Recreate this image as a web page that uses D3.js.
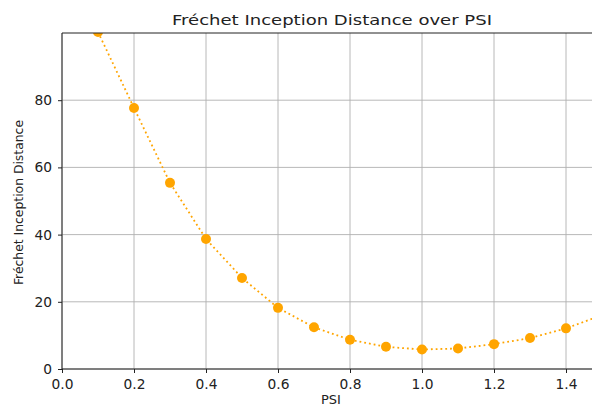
<!DOCTYPE html>
<html>
<head>
<meta charset="utf-8">
<script src="https://cdn.jsdelivr.net/npm/d3@7"></script>
<style>
  body { margin: 0; background: #fff; }
  svg { font-family: "DejaVu Sans", sans-serif; }
</style>
</head>
<body>
<svg id="chart" width="592" height="406"></svg>
<script>
// values
var psi = [0.1, 0.2, 0.3, 0.4, 0.5, 0.6, 0.7, 0.8, 0.9, 1.0, 1.1, 1.2, 1.3, 1.4, 1.5];
var fid = [100.3, 77.7, 55.4, 38.7, 27.1, 18.2, 12.4, 8.7, 6.6, 5.8, 6.1, 7.4, 9.2, 12.1, 16.0];
var xTicks = [0.0, 0.2, 0.4, 0.6, 0.8, 1.0, 1.2, 1.4];
var yTicks = [0, 20, 40, 60, 80];

var svg = d3.select("#chart");
var plotL = 62, plotT = 33, plotR = 602, plotB = 369;

var x = d3.scaleLinear().domain([0, 1.5]).range([plotL, plotR]);
var y = d3.scaleLinear().domain([0, 100]).range([plotB, plotT]);

svg.append("defs").append("clipPath").attr("id", "plotclip")
	.append("rect")
	.attr("x", plotL).attr("y", plotT)
	.attr("width", plotR - plotL).attr("height", plotB - plotT);

// grid
var grid = svg.append("g").attr("stroke", "#b0b0b0").attr("stroke-width", 0.9);
grid.selectAll(".gx").data(xTicks).enter().append("line")
	.attr("x1", function(d) { return x(d); }).attr("x2", function(d) { return x(d); })
	.attr("y1", plotT).attr("y2", plotB);
grid.selectAll(".gy").data(yTicks).enter().append("line")
	.attr("x1", plotL).attr("x2", plotR)
	.attr("y1", function(d) { return y(d); }).attr("y2", function(d) { return y(d); });

// data
var plot = svg.append("g").attr("clip-path", "url(#plotclip)");
var line = d3.line()
	.x(function(d, i) { return x(psi[i]); })
	.y(function(d) { return y(d); });

plot.append("path")
	.datum(fid)
	.attr("d", line)
	.attr("fill", "none")
	.attr("stroke", "orange")
	.attr("stroke-width", 1.8)
	.attr("stroke-dasharray", "1.8,3")
	.attr("stroke-linecap", "butt");

plot.selectAll("circle").data(fid).enter().append("circle")
	.attr("cx", function(d, i) { return x(psi[i]); })
	.attr("cy", function(d) { return y(d); })
	.attr("r", 5)
	.attr("fill", "orange");

// axes
var xAxis = d3.axisBottom(x).tickValues(xTicks).tickFormat(d3.format(".1f")).tickSize(4).tickPadding(6);
var yAxis = d3.axisLeft(y).tickValues(yTicks).tickFormat(d3.format("d")).tickSize(4).tickPadding(6);

var gx = svg.append("g").attr("transform", "translate(0," + plotB + ")").call(xAxis);
var gy = svg.append("g").attr("transform", "translate(" + plotL + ",0)").call(yAxis);
[gx, gy].forEach(function(g) {
	g.select(".domain").remove();
	g.selectAll("line").attr("stroke", "#222");
	g.selectAll("text").attr("font-size", 13.8).attr("fill", "#222")
		.attr("font-family", "DejaVu Sans");
});

// spines
svg.append("line").attr("x1", plotL).attr("x2", plotL).attr("y1", plotT).attr("y2", plotB)
	.attr("stroke", "#222").attr("stroke-width", 1);
svg.append("line").attr("x1", plotL).attr("x2", plotR).attr("y1", plotB).attr("y2", plotB)
	.attr("stroke", "#222").attr("stroke-width", 1);
svg.append("line").attr("x1", plotL).attr("x2", plotR).attr("y1", plotT).attr("y2", plotT)
	.attr("stroke", "#222").attr("stroke-width", 1);

// labels
svg.append("text")
	.attr("x", 172).attr("y", 25)
	.attr("font-size", 14.5).attr("fill", "#222")
	.attr("textLength", 320).attr("lengthAdjust", "spacingAndGlyphs")
	.text("Fréchet Inception Distance over PSI");

svg.append("text")
	.attr("x", 331).attr("y", 404)
	.attr("text-anchor", "middle")
	.attr("font-size", 13).attr("fill", "#222")
	.text("PSI");

svg.append("text")
	.attr("transform", "translate(23,285) rotate(-90)")
	.attr("font-size", 13).attr("fill", "#222")
	.attr("font-family", "DejaVu Sans Condensed, DejaVu Sans")
	.attr("font-stretch", "condensed")
	.attr("textLength", 165).attr("lengthAdjust", "spacingAndGlyphs")
	.text("Fréchet Inception Distance");
</script>
</body>
</html>
